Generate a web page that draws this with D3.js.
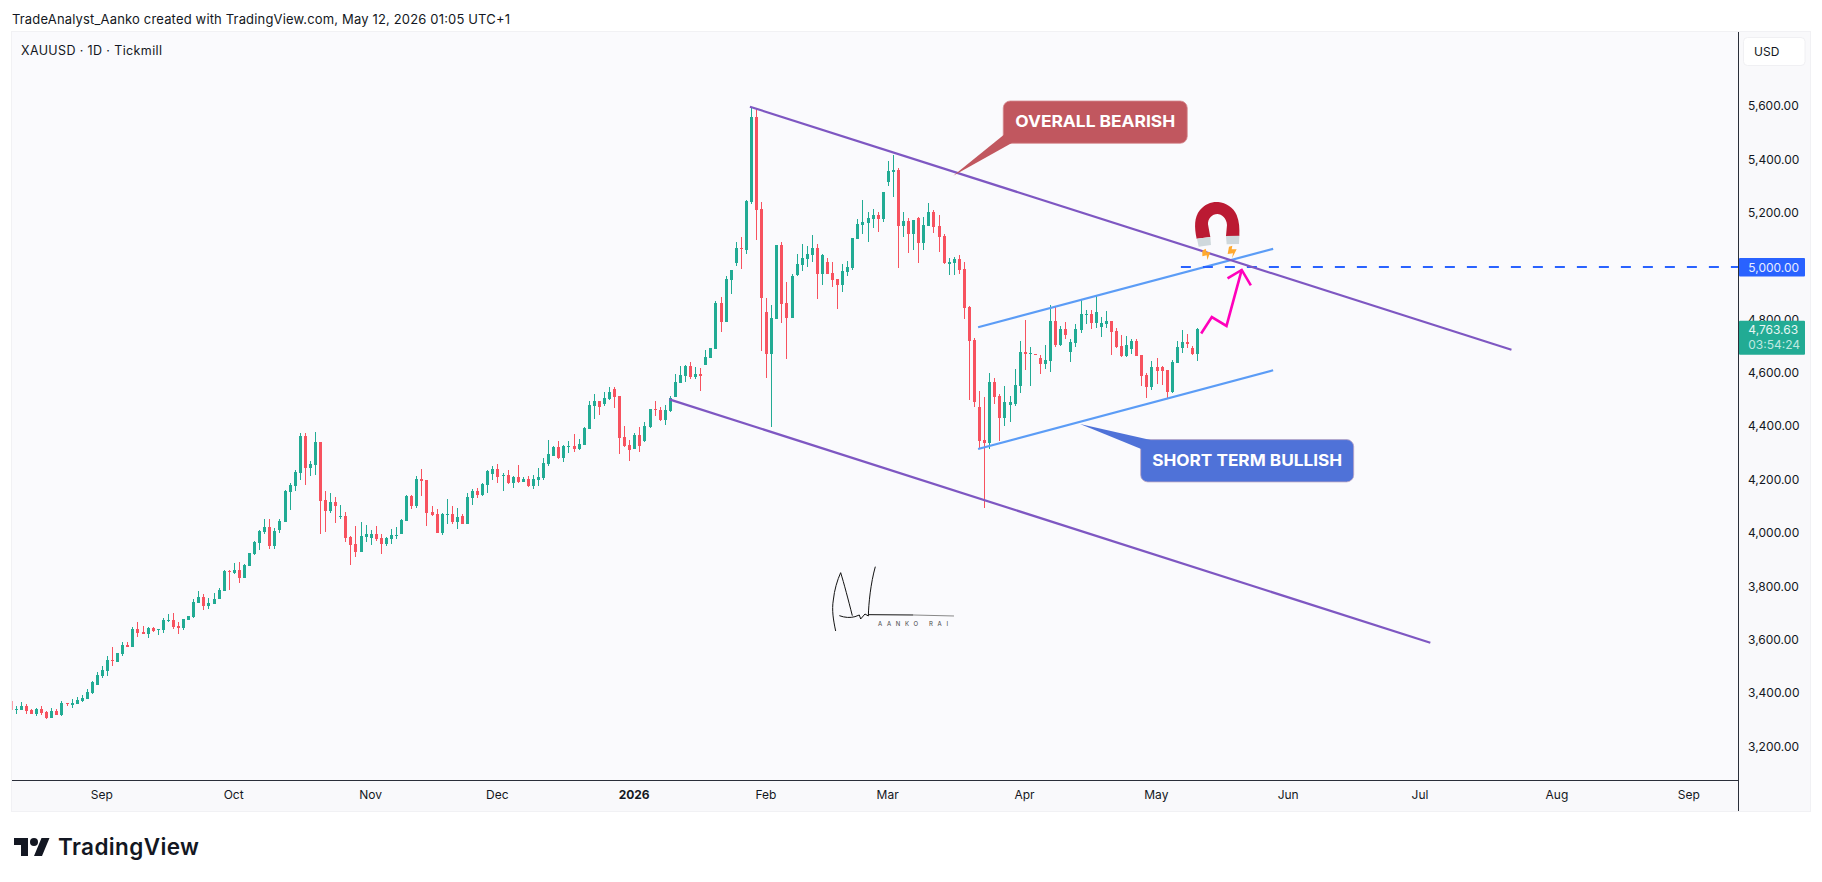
<!DOCTYPE html>
<html>
<head>
<meta charset="utf-8">
<title>XAUUSD</title>
<script src="https://cdn.jsdelivr.net/npm/d3@7/dist/d3.min.js"></script>
<style>
  html, body { margin: 0; padding: 0; background: #fff; }
  svg { display: block; }
  text { font-family: Inter, "Noto Sans", sans-serif; }
</style>
</head>
<body>
<svg id="chart" width="1822" height="882"></svg>
<script>
// daily bars (first one is the clipped bar at the left edge)
var opens = [3369,
  3335,3335,3350,3335,3320,3339,3327,3305,3330,3316,
  3361,3354,3357,3369,3376,3399,3429,3462,3481,3522,
  3515,3545,3579,3571,3638,3627,3620,3642,3635,3635,
  3668,3672,3650,3642,3672,3683,3736,3758,3725,3732,
  3751,3781,3856,3848,3860,3830,3874,3919,3961,4002,
  4021,3949,4009,4039,4152,4174,4223,4362,4242,4253,
  4339,4122,4081,4114,4058,4062,3983,3957,3927,3983,
  3979,3994,3979,3957,3976,3987,3994,4043,4137,4099,
  4201,4197,4077,4069,3998,4066,4069,4039,4062,4032,
  4129,4156,4141,4178,4219,4238,4212,4216,4186,4208,
  4189,4201,4174,4197,4204,4257,4287,4320,4279,4320,
  4324,4313,4328,4388,4474,4493,4482,4500,4538,4512,
  4358,4328,4313,4366,4343,4395,4463,4459,4422,4455,
  4508,4560,4586,4624,4583,4594,4628,4654,4688,4860,
  4789,4946,5010,5066,5058,5238,5557,5212,4826,4669,
  4800,5077,4860,4804,4965,5002,5025,5040,5066,4969,
  5013,4972,4950,4927,4976,4991,5100,5152,5160,5175,
  5190,5175,5313,5351,5358,5148,5167,5118,5178,5085,
  5148,5201,5148,5111,5006,5010,5025,4987,4845,4721,
  4470,4346,4335,4564,4511,4429,4478,4481,4549,4676,
  4669,4669,4654,4631,4642,4792,4702,4762,4676,4710,
  4759,4815,4819,4785,4770,4781,4792,4755,4699,4661,
  4687,4717,4665,4590,4545,4620,4620,4609,4526,4635,
  4691,4714,4691,4669];
var highs = [3369,
  3350,3365,3357,3340,3341,3350,3332,3342,3339,3369,
  3361,3376,3384,3391,3414,3442,3477,3500,3537,3571,
  3549,3590,3590,3646,3665,3650,3646,3646,3638,3680,
  3695,3698,3665,3676,3687,3751,3781,3770,3755,3773,
  3792,3860,3860,3886,3890,3882,3923,3968,4009,4051,
  4051,4017,4051,4159,4186,4234,4373,4373,4268,4377,
  4339,4156,4148,4133,4103,4077,3987,4024,4039,4028,
  4009,4024,3994,3983,4013,4021,4051,4141,4141,4212,
  4238,4197,4099,4088,4073,4126,4099,4092,4069,4148,
  4163,4167,4186,4234,4249,4257,4223,4234,4212,4253,
  4208,4212,4216,4242,4279,4347,4324,4343,4328,4343,
  4369,4350,4395,4493,4519,4493,4527,4545,4545,4512,
  4399,4347,4373,4395,4414,4463,4493,4470,4478,4512,
  4594,4624,4628,4639,4620,4616,4684,4691,4867,4882,
  4961,4984,5088,5107,5246,5596,5591,5238,4879,4852,
  5077,5088,4939,4969,5043,5081,5073,5115,5081,5043,
  5029,5013,4950,5006,5017,5103,5175,5246,5201,5212,
  5201,5276,5392,5414,5366,5201,5178,5171,5182,5182,
  5235,5208,5190,5118,5029,5032,5040,5013,4849,4729,
  4530,4508,4598,4579,4519,4549,4511,4612,4717,4796,
  4695,4669,4665,4702,4852,4845,4774,4789,4725,4781,
  4871,4834,4834,4886,4807,4830,4792,4766,4740,4736,
  4725,4725,4665,4598,4642,4654,4624,4609,4646,4717,
  4759,4744,4699,4766];
var lows = [3335,
  3320,3335,3320,3320,3314,3316,3301,3305,3316,3312,
  3350,3344,3357,3365,3376,3395,3429,3455,3462,3500,
  3515,3537,3571,3571,3608,3620,3605,3627,3616,3623,
  3665,3638,3620,3635,3672,3680,3736,3710,3713,3732,
  3751,3781,3785,3845,3811,3830,3874,3916,3934,3994,
  3938,3938,3998,4039,4084,4156,4197,4178,4212,4215,
  3994,4002,4073,4036,4051,3964,3878,3908,3927,3964,
  3953,3968,3919,3949,3957,3976,3994,4043,4088,4092,
  4137,4024,4062,3998,3991,4032,4032,4013,4032,4032,
  4103,4129,4137,4148,4197,4186,4156,4182,4167,4186,
  4189,4171,4163,4174,4197,4249,4287,4276,4264,4298,
  4302,4309,4328,4388,4425,4440,4474,4497,4467,4294,
  4320,4268,4313,4302,4339,4392,4437,4418,4403,4452,
  4508,4560,4564,4575,4575,4530,4628,4654,4688,4751,
  4789,4894,4999,4987,5043,5231,5096,4680,4579,4395,
  4800,4785,4650,4804,4961,4980,4995,5013,4875,4927,
  4969,4920,4837,4901,4961,4984,5100,5118,5088,5141,
  5126,5163,5298,5257,4991,5107,5047,5058,5010,5058,
  5148,5122,5051,5006,4965,4965,4969,4800,4496,4470,
  4313,4092,4313,4482,4343,4399,4414,4474,4523,4609,
  4549,4665,4594,4612,4601,4695,4699,4725,4639,4695,
  4747,4781,4762,4766,4732,4766,4665,4691,4658,4658,
  4669,4661,4549,4504,4534,4556,4553,4500,4523,4635,
  4672,4691,4665,4642];
var closes = [3335,
  3339,3350,3332,3320,3339,3324,3305,3331,3316,3361,
  3357,3361,3372,3380,3402,3440,3466,3485,3522,3519,
  3549,3579,3571,3638,3623,3620,3642,3631,3638,3672,
  3672,3646,3642,3676,3687,3740,3758,3725,3736,3751,
  3785,3856,3852,3860,3830,3878,3923,3964,4006,4021,
  3949,4006,4043,4156,4178,4227,4362,4242,4257,4339,
  4118,4081,4114,4099,4062,3979,3953,3927,3987,3994,
  3994,3976,3957,3979,3991,3991,4047,4137,4099,4201,
  4193,4073,4066,3998,4069,4069,4039,4058,4032,4133,
  4156,4141,4182,4231,4238,4208,4216,4186,4208,4189,
  4201,4174,4201,4208,4261,4294,4320,4279,4324,4324,
  4313,4332,4392,4478,4493,4470,4504,4527,4508,4354,
  4324,4309,4366,4324,4399,4463,4459,4422,4459,4504,
  4564,4590,4624,4583,4594,4586,4658,4691,4860,4789,
  4950,4984,5066,5062,5242,5557,5208,4879,4669,4804,
  5077,4856,4804,4961,5006,5029,5043,5066,4969,5040,
  4969,4946,4927,4980,4995,5103,5156,5163,5178,5190,
  5175,5276,5354,5358,5148,5167,5118,5171,5085,5152,
  5201,5145,5107,5010,5013,5025,4984,4841,4717,4489,
  4343,4335,4564,4508,4429,4489,4489,4553,4676,4669,
  4672,4665,4631,4646,4792,4702,4762,4740,4714,4762,
  4819,4819,4785,4826,4785,4792,4751,4695,4661,4702,
  4717,4661,4586,4545,4620,4605,4605,4526,4639,4695,
  4714,4706,4669,4763.63];

var priceTicks = [3200,3400,3600,3800,4000,4200,4400,4600,4800,5000,5200,5400,5600];
var timeTickBars = [18,44,71,96,123,149,173,200,226,252,278,305,331];
var timeTickLabels = ["Sep","Oct","Nov","Dec","2026","Feb","Mar","Apr","May","Jun","Jul","Aug","Sep"];

// drawings, as [bar, price]
var purpleUpper = [[145.7,5595.5],[295.9,4685]];
var purpleLower = [[129.8,4499],[279.9,3587]];
var blueUpper = [[190.7,4769],[248.9,5063]];
var blueLower = [[190.7,4313],[248.9,4608]];
var pinkPath = [[234.7,4746],[236.8,4807.5],[239.7,4774],[242.7,4984]];
var pinkHead = [[239.9,4952.5],[242.7,4984],[244.5,4926]];
var levelStartBar = 230.7;
var levelPrice = 5000;
var lastPrice = 4763.63;
var countdown = "03:54:24";
var bearCallout = {text: "OVERALL BEARISH", tip: [185.8,5337]};
var bullCallout = {text: "SHORT TERM BULLISH", tip: [210.8,4406.6]};

var green = "#22ab94", red = "#f7525f";
var paneLeft = 12, paneRight = 1738, paneTop = 32, paneBottom = 780, frameBottom = 812;

var svg = d3.select("#chart");
var fmt = d3.format(",.2f");

var x = d3.scaleLinear().domain([0, 100]).range([11.23, 518.23]);
var y = d3.scaleLinear().domain([3200, 5600]).range([746.06, 105.5]);
var bar_xy = function (p) { return [x(p[0]), y(p[1])]; };
var line = d3.line().x(function (p) { return x(p[0]); }).y(function (p) { return y(p[1]); });

// header
svg.append("text").attr("x", 12).attr("y", 23.5)
  .attr("font-size", 13).attr("fill", "#131722")
  .attr("textLength", 498).attr("lengthAdjust", "spacing")
  .text("TradeAnalyst_Aanko created with TradingView.com, May 12, 2026 01:05 UTC+1");

// frame, pane, axis backgrounds
svg.append("rect").attr("x", 11).attr("y", 31).attr("width", 1800).attr("height", frameBottom - 31).attr("fill", "#f1f1f4");
svg.append("rect").attr("x", paneLeft).attr("y", paneTop).attr("width", paneRight - paneLeft).attr("height", paneBottom - paneTop).attr("fill", "#fafafd");
svg.append("rect").attr("x", paneRight).attr("y", paneTop).attr("width", 1810 - paneRight).attr("height", frameBottom - 1 - paneTop).attr("fill", "#f9f9fb");
svg.append("rect").attr("x", paneLeft).attr("y", paneBottom).attr("width", paneRight - paneLeft).attr("height", frameBottom - 1 - paneBottom).attr("fill", "#f9f9fb");

var defs = svg.append("defs");
defs.append("clipPath").attr("id", "pane").append("rect")
  .attr("x", paneLeft).attr("y", paneTop).attr("width", paneRight - paneLeft).attr("height", paneBottom - paneTop);

svg.append("text").attr("x", 21).attr("y", 54.5).attr("font-size", 12.5).attr("fill", "#131722")
  .attr("textLength", 141).text("XAUUSD \u00b7 1D \u00b7 Tickmill");

// candles
var plot = svg.append("g").attr("clip-path", "url(#pane)");
var candles = plot.append("g").attr("shape-rendering", "crispEdges");
candles.selectAll("g").data(opens).enter().append("g").each(function (o, i) {
  var g = d3.select(this), c = closes[i], col = c >= o ? green : red;
  var px = Math.floor(x(i));
  var top = Math.round(y(Math.max(o, c))), bot = Math.round(y(Math.min(o, c)));
  g.append("rect").attr("x", px).attr("width", 1)
    .attr("y", y(highs[i])).attr("height", y(lows[i]) - y(highs[i])).attr("fill", col);
  g.append("rect").attr("x", px - 1).attr("width", 3)
    .attr("y", top).attr("height", Math.max(1, bot - top)).attr("fill", col);
});
candles.select("g").attr("opacity", 0.55);

// trend lines
function drawLine(pts, col, w) {
  return plot.append("path").attr("d", line(pts)).attr("fill", "none")
    .attr("stroke", col).attr("stroke-width", w).attr("stroke-linejoin", "miter");
}
drawLine(blueUpper, "#5b9cf6", 2.2);
drawLine(blueLower, "#5b9cf6", 2.2);

// 5000 level
var levelY = Math.round(y(levelPrice)) + 1;
plot.append("line").attr("x1", x(levelStartBar)).attr("x2", paneRight)
  .attr("y1", levelY).attr("y2", levelY)
  .attr("stroke", "#2962ff").attr("stroke-width", 2).attr("stroke-dasharray", "10,12");

drawLine(purpleUpper, "#7e57c2", 2.2);
drawLine(purpleLower, "#7e57c2", 2.2);
drawLine(pinkPath, "#ff00bb", 2.6);
drawLine(pinkHead, "#ff00bb", 2.6);

// callouts: box placed from the tip of the tail
function callout(c, box, fill, edge) {
  var tip = bar_xy(c.tip);
  var bx = tip[0] + box.dx, by = tip[1] + box.dy;
  var g = plot.append("g");
  g.append("rect").attr("x", bx).attr("y", by).attr("width", box.w).attr("height", box.h)
    .attr("rx", 7).attr("fill", fill).attr("stroke", edge).attr("stroke-width", 0.8);
  g.append("path").attr("fill", fill).attr("d", "M" + tip + "L" + (bx + box.a[0]) + "," + (by + box.a[1]) +
    "L" + (bx + box.b[0]) + "," + (by + box.b[1]) + "Z");
  g.append("text").attr("x", bx + box.w / 2).attr("y", by + box.h / 2 + 5)
    .attr("text-anchor", "middle").attr("font-size", 16).attr("font-weight", 700)
    .attr("font-family", "'Open Sans', sans-serif").attr("fill", "#fff")
    .attr("textLength", box.tw).attr("lengthAdjust", "spacingAndGlyphs").text(c.text);
}
callout(bearCallout, {dx: 50, dy: -74.7, w: 184, h: 42.3, a: [1, 33.5], b: [9, 41.8], tw: 160}, "#c1575f", "#d68a90");
callout(bullCallout, {dx: 60.7, dy: 15.6, w: 213, h: 42.3, a: [10, 0.5], b: [0.5, 9.5], tw: 190}, "#4f72d8", "#b9a3c4");

// magnet sticker, drawn at 3x then scaled down
var magnet = plot.append("g").attr("transform", "translate(1150,190) scale(0.3333)");
magnet.append("path").attr("fill", "#bb1a33")
  .attr("d", "M140,146C133,112 132,82 150,60C165,41 188,34 205,36C228,38 250,52 260,75C268,95 269,115 268,138L228,138L231,105C230,85 215,72 202,72C187,72 173,85 174,103L181,141Z");
magnet.append("path").attr("fill", "#cfd8dc").attr("d", "M141,146L181,141L183,165L146,170Z");
magnet.append("path").attr("fill", "#cfd8dc").attr("d", "M228,138L268,137L267,162L230,163Z");
magnet.append("path").attr("fill", "#ffa92e").attr("d", "M157,182L167,176L170,187L181,186L172,210L170,196L157,199Z");
magnet.append("path").attr("fill", "#ffa92e").attr("d", "M237,170L247,167L245,178L260,178L246,205L249,190L233,192Z");

// signature watermark, same 3x drawing
var sign = plot.append("g").attr("transform", "translate(800,550) scale(0.3333)")
  .attr("fill", "none").attr("stroke", "#111");
sign.append("path").attr("stroke-width", 3).attr("d", "M107,243C100,210 95,180 100,150C103,120 112,90 122,68C132,100 145,150 157,197");
sign.append("path").attr("stroke-width", 3).attr("d", "M118,197C135,203 150,204 165,200L178,195L182,207L195,192L205,198C206,160 212,100 226,50");
sign.append("path").attr("stroke-width", 3).attr("d", "M205,194L340,195");
sign.append("path").attr("stroke-width", 3).attr("stroke", "#888").attr("d", "M340,195L462,198");
plot.append("text").attr("x", 878).attr("y", 625.5).attr("font-size", 6).attr("fill", "#444")
  .attr("textLength", 70).text("AANKO RAI");

// axes
var yAxis = d3.axisRight(y).tickValues(priceTicks).tickFormat(fmt).tickSize(0).tickPadding(10);
var yG = svg.append("g").attr("transform", "translate(" + paneRight + ",0.3)").call(yAxis);
yG.select(".domain").remove();
yG.selectAll("text").attr("font-family", "Inter, sans-serif").attr("font-size", 12).attr("fill", "#131722");

var xAxis = d3.axisBottom(x).tickValues(timeTickBars)
  .tickFormat(function (d, i) { return timeTickLabels[i]; }).tickSize(0).tickPadding(10);
var xG = svg.append("g").attr("transform", "translate(-1.2," + paneBottom + ")").call(xAxis);
xG.select(".domain").remove();
xG.selectAll("text").attr("font-family", "Inter, sans-serif").attr("font-size", 12).attr("fill", "#131722")
  .attr("font-weight", function (d, i) { return timeTickLabels[i] === "2026" ? 700 : 400; });

svg.append("line").attr("x1", paneLeft).attr("x2", paneRight).attr("y1", paneBottom + 0.5).attr("y2", paneBottom + 0.5).attr("stroke", "#2a2e39");
svg.append("line").attr("x1", paneRight + 0.5).attr("x2", paneRight + 0.5).attr("y1", paneTop).attr("y2", frameBottom - 1).attr("stroke", "#2a2e39");

// USD button
svg.append("rect").attr("x", 1743.5).attr("y", 37.5).attr("width", 61.5).attr("height", 28).attr("rx", 4)
  .attr("fill", "#fff").attr("stroke", "#f0f0f3");
svg.append("text").attr("x", 1754).attr("y", 56).attr("font-size", 12).attr("fill", "#131722").text("USD");

// price labels on the axis
svg.append("rect").attr("x", paneRight + 1).attr("y", levelY - 9).attr("width", 66).attr("height", 18.5).attr("rx", 1).attr("fill", "#2962ff");
svg.append("text").attr("x", 1748.3).attr("y", levelY + 4.5).attr("font-size", 12).attr("fill", "#e8edff").text(fmt(levelPrice));
var lastY = y(lastPrice);
svg.append("rect").attr("x", paneRight + 1).attr("y", lastY - 8).attr("width", 66).attr("height", 34).attr("rx", 1).attr("fill", green);
svg.append("text").attr("x", 1748.3).attr("y", lastY + 5).attr("font-size", 12).attr("fill", "#e6f6f3").text(fmt(lastPrice));
svg.append("text").attr("x", 1748.3).attr("y", lastY + 20.5).attr("font-size", 12).attr("fill", "#bfe8e0").text(countdown);

// TradingView logo
var logo = svg.append("g").attr("transform", "translate(14,834)").attr("fill", "#131722");
logo.append("path").attr("d", "M14 22H7V11H0V4h14v18zM28 22h-8l7.5-18h8L28 22z");
logo.append("circle").attr("cx", 20).attr("cy", 8).attr("r", 4);
svg.append("text").attr("x", 58).attr("y", 855).attr("font-size", 22.5).attr("font-weight", 600)
  .attr("fill", "#131722").attr("textLength", 141).text("TradingView");
</script>
</body>
</html>
